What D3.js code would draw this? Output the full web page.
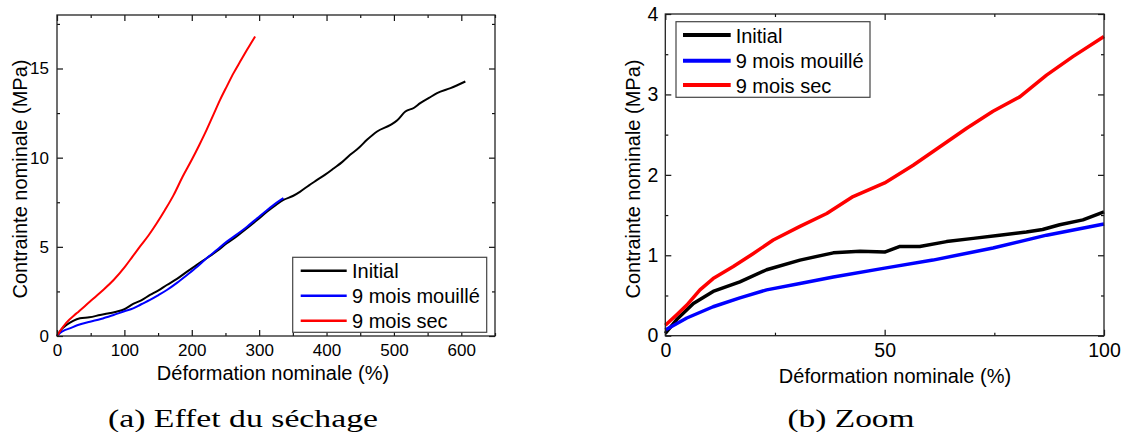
<!DOCTYPE html>
<html lang="fr">
<head>
<meta charset="utf-8">
<title>Contrainte vs déformation</title>
<style>
  body { margin: 0; background: #fff; }
  svg { display: block; }
  .sans { font-family: "Liberation Sans", Arial, sans-serif; }
  .serif { font-family: "Liberation Serif", "DejaVu Serif", serif; }
</style>
</head>
<body>
<script src="https://d3js.org/d3.v7.min.js"></script>
<script>

// series names and colours
var seriesNames = ["Initial", "9 mois mouillé", "9 mois sec"];
var seriesColors = ["#000000", "#0000ff", "#ff0000"];

// (a) full test, [strain %, stress MPa]
var fullInitial = [[0,0],[6,0.35],[14,0.62],[24,0.85],[34,0.99],[48,1.05],[64,1.18],[88,1.36],[100,1.5],[113,1.8],[125,2.0],[138,2.3],[150,2.55],[163,2.86],[178,3.2],[193,3.61],[208,4.0],[222,4.36],[237,4.75],[252,5.2],[267,5.6],[282,6.04],[297,6.5],[312,6.98],[325,7.35],[336,7.63],[350,7.85],[361,8.1],[374,8.45],[386,8.75],[398,9.05],[411,9.41],[423,9.75],[435,10.16],[448,10.55],[460,11.0],[475,11.47],[495,11.84],[505,12.1],[517,12.59],[530,12.8],[539,13.06],[552,13.35],[564,13.62],[584,13.9],[606,14.27]];
var fullMouille = [[0,0],[5,0.18],[10,0.3],[19,0.43],[30,0.6],[49,0.8],[65,0.95],[84,1.18],[100,1.39],[113,1.55],[125,1.78],[138,2.02],[150,2.28],[163,2.58],[178,2.98],[193,3.42],[208,3.88],[222,4.36],[237,4.82],[252,5.29],[267,5.7],[282,6.13],[297,6.6],[312,7.07],[325,7.45],[336,7.73]];
var fullSec = [[0,0],[5,0.3],[14,0.75],[29,1.27],[49,1.93],[66,2.5],[84,3.14],[101,3.89],[112,4.45],[123,5.01],[136,5.65],[148,6.32],[160,7.05],[173,7.9],[186,8.9],[200,9.88],[211,10.7],[222,11.56],[232,12.4],[242,13.24],[252,14.0],[262,14.74],[272,15.4],[282,16.05],[294,16.8]];

// (b) zoom on 0-100 %
var zoomInitial = [[0,0.03],[2.6,0.2],[6.4,0.4],[10.9,0.55],[17,0.67],[23.1,0.82],[30.7,0.94],[38.3,1.03],[44.4,1.05],[50,1.04],[53.5,1.11],[58,1.11],[64.1,1.17],[70.2,1.21],[76.2,1.25],[82.3,1.29],[86,1.32],[89.9,1.38],[95.2,1.44],[100,1.54]];
var zoomMouille = [[0,0.07],[4.9,0.22],[10.9,0.36],[17,0.47],[23.1,0.57],[30.7,0.65],[38.3,0.73],[50,0.84],[61,0.94],[74.7,1.09],[86.9,1.25],[100,1.39]];
var zoomSec = [[0,0.13],[2.6,0.26],[4.9,0.38],[7.9,0.57],[10.9,0.71],[15.5,0.86],[20,1.02],[24.6,1.19],[30.7,1.36],[36.8,1.52],[42.8,1.73],[50,1.9],[56.5,2.12],[62.6,2.35],[68.7,2.58],[74.7,2.79],[80.8,2.97],[86.9,3.24],[92.9,3.47],[100,3.72]];

// axis ticks
var fullXTicks = [0, 100, 200, 300, 400, 500, 600];
var fullXMinor = [50, 150, 250, 350, 450, 550, 650];
var fullYTicks = [0, 5, 10, 15];
var fullYMinor = [2.5, 7.5, 12.5, 17.5];
var zoomXTicks = [0, 50, 100];
var zoomXMinor = [25, 75];
var zoomYTicks = [0, 1, 2, 3, 4];
var zoomYMinor = [0.5, 1.5, 2.5, 3.5];

var xTitle = "Déformation nominale (%)";
var yTitle = "Contrainte nominale (MPa)";

var svg = d3.select("body").append("svg")
    .attr("width", 1121)
    .attr("height", 432);

function drawPanel(cfg) {
  var x = d3.scaleLinear().domain(cfg.xDomain).range([cfg.left, cfg.right]);
  var y = d3.scaleLinear().domain(cfg.yDomain).range([cfg.bottom, cfg.top]);
  var g = svg.append("g").attr("class", "sans");

  // curves
  var line = d3.line().curve(cfg.curve)
    .x(function(d) { return x(d[0]); }).y(function(d) { return y(d[1]); });
  cfg.series.forEach(function(s, i) {
    g.append("path")
      .datum(s)
      .attr("fill", "none")
      .attr("stroke", seriesColors[i])
      .attr("stroke-width", cfg.lineWidth)
      .attr("stroke-linejoin", "round")
      .attr("d", line);
  });

  // inward ticks on all four sides
  function ticks(axisFn, scale, values, size, transform, labels) {
    var a = axisFn(scale).tickValues(values).tickSizeInner(-size).tickSizeOuter(0)
      .tickPadding(labels ? cfg.pad : 0)
      .tickFormat(labels ? d3.format("d") : "");
    var ag = g.append("g").attr("transform", transform).call(a);
    ag.select(".domain").remove();
    ag.selectAll("line").attr("stroke", "#111").attr("stroke-width", 1.2);
    ag.selectAll("text").attr("font-size", cfg.tickFont).attr("fill", "#000")
      .attr("font-family", "Liberation Sans, Arial, sans-serif");
    return ag;
  }
  var bx = ticks(d3.axisBottom, x, cfg.xTicks, 6, "translate(0," + cfg.bottom + ")", true);
  bx.selectAll("text").attr("dy", "0.71em");
  ticks(d3.axisBottom, x, cfg.xMinor, 3, "translate(0," + cfg.bottom + ")", false);
  ticks(d3.axisTop, x, cfg.xTicks, 6, "translate(0," + cfg.top + ")", false);
  ticks(d3.axisTop, x, cfg.xMinor, 3, "translate(0," + cfg.top + ")", false);
  ticks(d3.axisLeft, y, cfg.yTicks, 6, "translate(" + cfg.left + ",0)", true);
  ticks(d3.axisLeft, y, cfg.yMinor, 3, "translate(" + cfg.left + ",0)", false);
  ticks(d3.axisRight, y, cfg.yTicks, 6, "translate(" + cfg.right + ",0)", false);
  ticks(d3.axisRight, y, cfg.yMinor, 3, "translate(" + cfg.right + ",0)", false);

  // frame
  g.append("rect")
    .attr("x", cfg.left).attr("y", cfg.top)
    .attr("width", cfg.right - cfg.left).attr("height", cfg.bottom - cfg.top)
    .attr("fill", "none").attr("stroke", "#222").attr("stroke-width", 1.3);

  // axis titles
  g.append("text")
    .attr("x", cfg.xTitleX).attr("y", cfg.xTitleY)
    .attr("text-anchor", "middle").attr("font-size", 20)
    .text(xTitle);
  g.append("text")
    .attr("transform", "translate(" + cfg.yTitleX + ",179) rotate(-90)")
    .attr("text-anchor", "middle").attr("font-size", 20)
    .text(yTitle);

  // legend
  var L = cfg.legend;
  g.append("rect")
    .attr("x", L.x).attr("y", L.y).attr("width", L.w).attr("height", L.h)
    .attr("fill", "#fff").attr("stroke", "#444").attr("stroke-width", 1.2);
  seriesNames.forEach(function(name, i) {
    var cy = L.rows[i];
    g.append("line")
      .attr("x1", L.x1).attr("x2", L.x2).attr("y1", cy).attr("y2", cy)
      .attr("stroke", seriesColors[i]).attr("stroke-width", cfg.lineWidth + 0.5);
    g.append("text")
      .attr("x", L.tx).attr("y", cy + 7.5)
      .attr("font-size", 20)
      .text(name);
  });

  // caption
  svg.append("text")
    .attr("class", "serif")
    .attr("x", cfg.capX).attr("y", 427)
    .attr("text-anchor", "middle")
    .attr("font-size", 26)
    .attr("textLength", cfg.capW)
    .attr("lengthAdjust", "spacingAndGlyphs")
    .text(cfg.caption);
}

drawPanel({
  left: 57, right: 495, top: 15, bottom: 336,
  xDomain: [0, 650], yDomain: [0, 18],
  xTicks: fullXTicks, xMinor: fullXMinor, yTicks: fullYTicks, yMinor: fullYMinor,
  series: [fullInitial, fullMouille, fullSec],
  curve: d3.curveMonotoneX,
  lineWidth: 2, tickFont: 17, pad: 8,
  xTitleX: 273, xTitleY: 380, yTitleX: 27,
  legend: { x: 292.7, y: 257.3, w: 194, h: 75, x1: 300.7, x2: 346.7, tx: 352, rows: [270.7, 295.7, 320.7] },
  caption: "(a) Effet du séchage", capX: 243, capW: 270
});

drawPanel({
  left: 665.3, right: 1104, top: 14, bottom: 335.7,
  xDomain: [0, 100], yDomain: [0, 4],
  xTicks: zoomXTicks, xMinor: zoomXMinor, yTicks: zoomYTicks, yMinor: zoomYMinor,
  series: [zoomInitial, zoomMouille, zoomSec],
  curve: d3.curveLinear,
  lineWidth: 3.5, tickFont: 19.5, pad: 7,
  xTitleX: 895, xTitleY: 383, yTitleX: 640,
  legend: { x: 676, y: 21.7, w: 194, h: 75.6, x1: 683, x2: 730.7, tx: 735.7, rows: [35, 60.7, 85] },
  caption: "(b) Zoom", capX: 851, capW: 127
});

</script>
</body>
</html>
